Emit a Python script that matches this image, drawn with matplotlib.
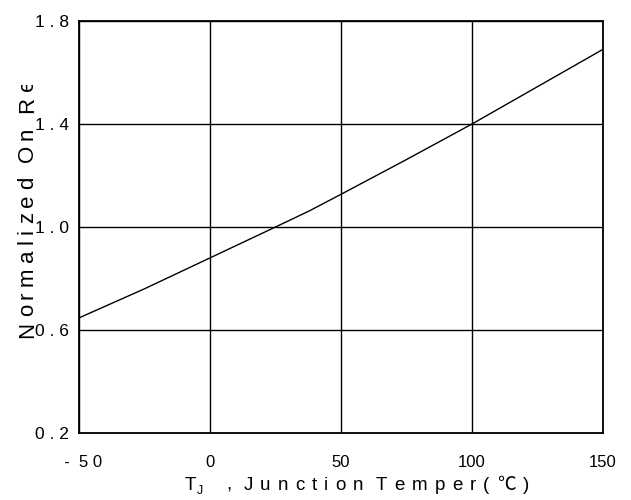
import matplotlib
matplotlib.use("Agg")
import matplotlib.pyplot as plt
from matplotlib.transforms import Bbox, IdentityTransform
from matplotlib.font_manager import FontProperties

temps = [-50, -25, 0, 25, 38, 50, 75, 100, 125, 150]
ron = [0.647, 0.76, 0.88, 1.0, 1.063, 1.127, 1.262, 1.40, 1.545, 1.69]
xticks = [-50, 0, 50, 100, 150]
xticklabels = ["  -  5 0", "0", "50", "100", "150"]
yticks = [0.2, 0.6, 1.0, 1.4, 1.8]
yticklabels = ["0 . 2", "0 . 6", "1 . 0", "1 . 4", "1 . 8"]
xlabel_main = "T"
xlabel_sub = "J"
xlabel_rest = ", Junction Temper(℃)"
ylabel_text = "Normalized On Re"

plt.rcParams['font.family'] = ['Liberation Sans', 'Noto Sans CJK SC', 'DejaVu Sans']

W, H = 631, 500
fig = plt.figure(figsize=(W / 100, H / 100), dpi=100)
ax = fig.add_axes([79 / W, 1 - 433 / H, (603 - 79) / W, (433 - 21) / H])
ax.plot(temps, ron, color='black', linewidth=1.0)
ax.set_xlim(-50, 150)
ax.set_ylim(0.2, 1.8)
ax.set_xticks(xticks)
ax.set_xticklabels(xticklabels, fontsize=12)
ax.set_yticks(yticks)
ax.set_yticklabels(yticklabels, fontsize=12.5)
ax.tick_params(length=0)
ax.tick_params(axis='y', pad=7)
ax.tick_params(axis='x', pad=15.5)
ax.grid(True, color='black', linewidth=1.0)
for s in ax.spines.values():
    s.set_linewidth(1.3)

renderer = fig.canvas.get_renderer()


def fam_for(ch):
    return ['Noto Sans CJK SC'] if ch == '℃' else ['Liberation Sans']


def char_w(ch, size):
    fp = FontProperties(family=fam_for(ch), size=size)
    w, h, d = renderer.get_text_width_height_descent(ch, fp, ismath=False)
    return w


def tracked(text, x, y, size, track, space, vertical=False, clip=None):
    pos = x if not vertical else y
    for ch in text:
        if ch == ' ':
            pos += space
            continue
        if vertical:
            t = fig.text(x, pos, ch, transform=IdentityTransform(), fontsize=size,
                         family=fam_for(ch), rotation=90, rotation_mode='anchor',
                         ha='left', va='baseline')
        else:
            t = fig.text(pos, y, ch, transform=IdentityTransform(), fontsize=size,
                         family=fam_for(ch), ha='left', va='baseline')
        if clip is not None:
            t.set_clip_on(True)
            t.set_clip_box(clip)
        pos += char_w(ch, size) + track
    return pos


# x label (pixel coords from bottom-left)
base_y = H - 490
fig.text(185, base_y, xlabel_main, transform=IdentityTransform(), fontsize=13.5,
         family=['Liberation Sans'], ha='left', va='baseline')
fig.text(197, base_y - 3.5, xlabel_sub, transform=IdentityTransform(), fontsize=9,
         family=['Liberation Sans'], ha='left', va='baseline')
tracked(xlabel_rest, 226, base_y, 13.5, 7.2, 5.0)

# y label, clipped at the top as in the reference
clip = Bbox.from_extents(0, 0, W, H - 85)
tracked(ylabel_text, 33, H - 338, 16, 5.4, 9.0, vertical=True, clip=clip)

fig.savefig("out.png", dpi=100)
